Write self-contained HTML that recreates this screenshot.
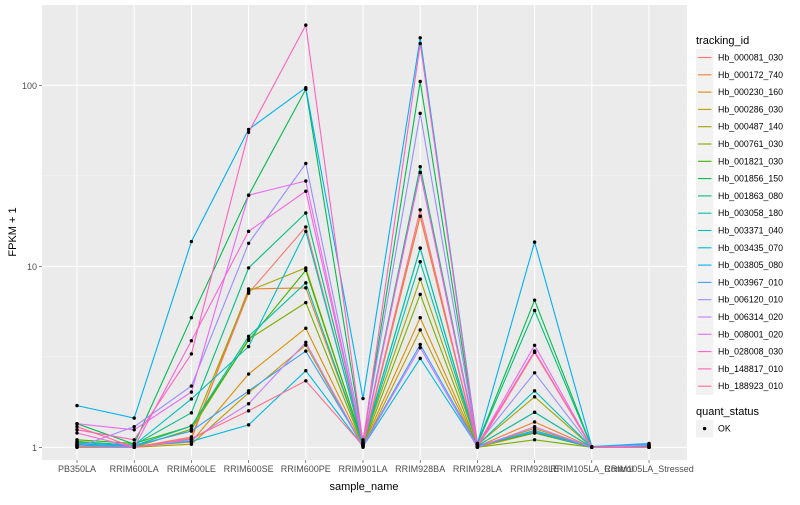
<!DOCTYPE html>
<html><head><meta charset="utf-8">
<style>
body{margin:0;background:#fff;font-family:"Liberation Sans",Arial,sans-serif;}
svg text{font-family:"Liberation Sans",Arial,sans-serif;}
</style></head>
<body>
<svg id="chart" width="800" height="500" xmlns="http://www.w3.org/2000/svg">
<rect x="0" y="0" width="800" height="500" fill="#fff"/>
<rect x="42" y="5" width="645" height="455" fill="#EBEBEB"/>
<g id="grid"></g><g id="lines"></g><g id="points"></g><g id="axes"></g><g id="legend"></g>
</svg>
<script>
const categories=["PB350LA","RRIM600LA","RRIM600LE","RRIM600SE","RRIM600PE","RRIM901LA","RRIM928BA","RRIM928LA","RRIM928LE","RRIM105LA_Control","RRIM105LA_Stressed"];
const seriesNames=["Hb_000081_030","Hb_000172_740","Hb_000230_160","Hb_000286_030","Hb_000487_140","Hb_000761_030","Hb_001821_030","Hb_001856_150","Hb_001863_080","Hb_003058_180","Hb_003371_040","Hb_003435_070","Hb_003805_080","Hb_003967_010","Hb_006120_010","Hb_006314_020","Hb_008001_020","Hb_028008_030","Hb_148817_010","Hb_188923_010"];
const seriesColors=["#F8766D","#EA8331","#D89000","#C09B00","#A3A500","#7CAE00","#39B600","#00BB4E","#00BF7D","#00C1A3","#00BFC4","#00BAE0","#00B0F6","#35A2FF","#9590FF","#C77CFF","#E76BF3","#FA62DB","#FF62BC","#FF6C91"];
const s0=[1.05,1.0,1.14,7.1,16.5,1.02,18.9,1.02,1.56,1.0,1.0];
const s1=[1.0,1.0,1.11,7.5,7.6,1.03,18.9,1.01,1.38,1.0,1.01];
const s2=[1.02,1.01,1.07,2.54,4.55,1.02,5.2,1.01,1.27,1.0,1.0];
const s3=[1.0,1.0,1.04,2.0,3.67,1.0,4.45,1.0,1.2,1.0,1.0];
const s4=[1.08,1.02,1.23,7.3,9.8,1.04,8.5,1.03,1.9,1.0,1.0];
const s5=[1.03,1.0,1.26,3.95,6.3,1.02,7.0,1.0,1.1,1.0,1.0];
const s6=[1.1,1.05,1.31,3.9,9.5,1.05,12.6,1.02,1.2,1.0,1.0];
const s7=[1.35,1.04,5.2,24.7,95,1.08,105,1.05,6.5,1.0,1.02];
const s8=[1.07,1.03,1.55,9.8,19.7,1.06,35.5,1.04,5.7,1.0,1.03];
const s9=[1.04,1.02,1.31,4.1,8.1,1.03,10.6,1.02,1.56,1.0,1.0];
const s10=[1.06,1.03,1.85,3.6,15.6,1.04,12.6,1.03,2.05,1.0,1.02];
const s11=[1.02,1.01,1.08,1.33,2.65,1.01,3.1,1.01,1.24,1.0,1.0];
const s12=[1.7,1.45,13.7,57,97,1.86,183,1.05,13.6,1.01,1.05];
const s13=[1.03,1.02,1.23,2.05,3.4,1.02,3.7,1.02,1.22,1.0,1.04];
const s14=[1.0,1.3,2.18,13.4,37,1.1,70,1.04,2.58,1.0,1.03];
const s15=[1.01,1.0,1.1,1.74,3.8,1.01,3.55,1.0,1.3,1.0,1.0];
const s16=[1.35,1.25,2.02,24.7,29.6,1.05,33,1.03,3.66,1.0,1.0];
const s17=[1.2,1.0,3.88,15.6,26,1.05,33,1.02,3.4,1.0,1.0];
const s18=[1.25,1.1,3.28,55,215,1.06,170,1.03,3.35,1.0,1.0];
const s19=[1.3,1.0,1.12,1.59,2.33,1.02,20.5,1.0,3.35,1.0,1.0];
const seriesValues=[s0,s1,s2,s3,s4,s5,s6,s7,s8,s9,s10,s11,s12,s13,s14,s15,s16,s17,s18,s19];
const yTicks=[1,10,100];
const yTickLabels=["1","10","100"];

const NS="http://www.w3.org/2000/svg";
const X0=77,DX=57.2,Y1=447.3,DEC=181;
function xs(i){return X0+i*DX;}
function ys(v){return Y1-Math.log10(v)*DEC;}
function mk(tag,attrs,parent){const e=document.createElementNS(NS,tag);for(const k in attrs)e.setAttribute(k,attrs[k]);parent.appendChild(e);return e;}
const grid=document.getElementById('grid'),lines=document.getElementById('lines'),pts=document.getElementById('points'),axes=document.getElementById('axes'),leg=document.getElementById('legend');
// minor grid
[Math.sqrt(10),Math.sqrt(1000)].forEach(v=>{const l=mk('line',{x1:42,x2:687,y1:ys(v),y2:ys(v),stroke:'#F5F5F5','stroke-width':0.6},grid);

});
yTicks.forEach((v,i)=>{const l=mk('line',{x1:42,x2:687,y1:ys(v),y2:ys(v),stroke:'#fff','stroke-width':1.1},grid);


const t=mk('text',{x:37,y:ys(v)+3.5,'text-anchor':'end','font-size':9,fill:'#4D4D4D'},axes);t.textContent=yTickLabels[i];


mk('line',{x1:39,x2:42,y1:ys(v),y2:ys(v),stroke:'#333','stroke-width':0.6},axes);});
categories.forEach((c,i)=>{const l=mk('line',{x1:xs(i),x2:xs(i),y1:5,y2:460,stroke:'#fff','stroke-width':1.1},grid);


mk('line',{x1:xs(i),x2:xs(i),y1:460,y2:463,stroke:'#333','stroke-width':0.6},axes);
const t=mk('text',{x:xs(i),y:472,'text-anchor':'middle','font-size':9,fill:'#4D4D4D'},axes);t.textContent=c;

});
seriesValues.forEach((vals,si)=>{const d=vals.map((v,i)=>(i?'L':'M')+xs(i).toFixed(1)+' '+ys(v).toFixed(1)).join(' ');
const p=mk('path',{d:d,fill:'none',stroke:seriesColors[si],'stroke-width':1.1},lines);


vals.forEach((v,i)=>{const c=mk('circle',{cx:xs(i),cy:ys(v),r:1.7,fill:'#000'},pts);

});});
// titles
let t=mk('text',{x:364,y:490,'text-anchor':'middle','font-size':11,fill:'#000'},axes);t.textContent='sample_name';


t=mk('text',{x:0,y:0,'text-anchor':'middle','font-size':11,fill:'#000',transform:'translate(16,232) rotate(-90)'},axes);t.textContent='FPKM + 1';


// legend
t=mk('text',{x:696,y:44,'font-size':11,fill:'#000'},leg);t.textContent='tracking_id';


seriesNames.forEach((n,i)=>{const y=57.5+i*17.3;
const g=mk('g',{},leg);


mk('rect',{x:696,y:y-8.6,width:17.3,height:17.3,fill:'#F2F2F2'},g);
mk('line',{x1:698,x2:711.5,y1:y,y2:y,stroke:seriesColors[i],'stroke-width':1.1},g);
const tt=mk('text',{x:718,y:y+3,'font-size':8.8,fill:'#000'},g);tt.textContent=n;});
t=mk('text',{x:696,y:415,'font-size':11,fill:'#000'},leg);t.textContent='quant_status';


const g2=mk('g',{},leg);


mk('rect',{x:696,y:420,width:17.3,height:17.3,fill:'#F2F2F2'},g2);
mk('circle',{cx:704.6,cy:428.6,r:1.7,fill:'#000'},g2);
const ok=mk('text',{x:718,y:431.6,'font-size':8.8,fill:'#000'},g2);ok.textContent='OK';
</script>
</body></html>
